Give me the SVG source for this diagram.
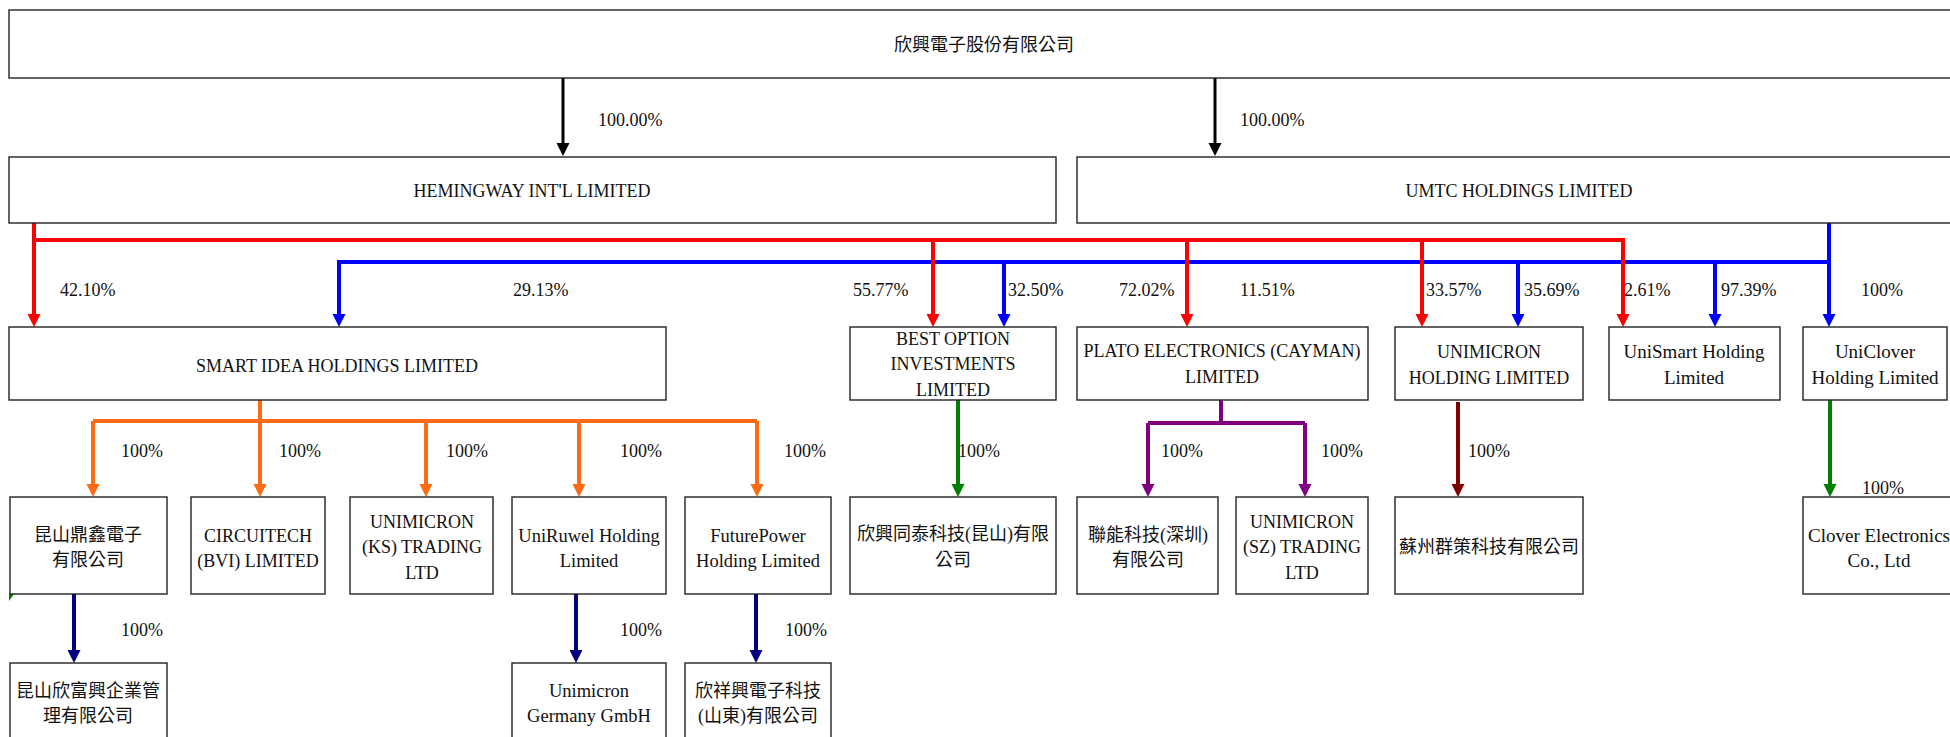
<svg xmlns="http://www.w3.org/2000/svg" width="1950" height="737" viewBox="0 0 1950 737">
<style>
.box{fill:#fff;stroke:#222;stroke-width:1.4}
text{font-family:"Liberation Serif","Noto Sans CJK TC",serif;font-size:18px;fill:#111}
.c{text-anchor:middle}
.m{font-size:19px}
.m2{font-size:18.5px}
.ln{fill:none;stroke-width:4;stroke-linejoin:miter}
.k{stroke:#000;stroke-width:3}
.r{stroke:#ff0000}
.b{stroke:#0000ff}
.o{stroke:#ff6a13}
.g{stroke:#008000}
.p{stroke:#800080}
.d{stroke:#800000}
.n{stroke:#000080}
</style>
<defs>
<marker id="mk" markerUnits="userSpaceOnUse" markerWidth="14" markerHeight="14" refX="5" refY="6.5" orient="auto"><path d="M0,0 L13,6.5 L0,13 Z" fill="#000"/></marker>
<marker id="mr" markerUnits="userSpaceOnUse" markerWidth="14" markerHeight="14" refX="5" refY="6.5" orient="auto"><path d="M0,0 L13,6.5 L0,13 Z" fill="#ff0000"/></marker>
<marker id="mb" markerUnits="userSpaceOnUse" markerWidth="14" markerHeight="14" refX="5" refY="6.5" orient="auto"><path d="M0,0 L13,6.5 L0,13 Z" fill="#0000ff"/></marker>
<marker id="mo" markerUnits="userSpaceOnUse" markerWidth="14" markerHeight="14" refX="5" refY="6.5" orient="auto"><path d="M0,0 L13,6.5 L0,13 Z" fill="#ff6a13"/></marker>
<marker id="mg" markerUnits="userSpaceOnUse" markerWidth="14" markerHeight="14" refX="5" refY="6.5" orient="auto"><path d="M0,0 L13,6.5 L0,13 Z" fill="#008000"/></marker>
<marker id="mp" markerUnits="userSpaceOnUse" markerWidth="14" markerHeight="14" refX="5" refY="6.5" orient="auto"><path d="M0,0 L13,6.5 L0,13 Z" fill="#800080"/></marker>
<marker id="md" markerUnits="userSpaceOnUse" markerWidth="14" markerHeight="14" refX="5" refY="6.5" orient="auto"><path d="M0,0 L13,6.5 L0,13 Z" fill="#800000"/></marker>
<marker id="mn" markerUnits="userSpaceOnUse" markerWidth="14" markerHeight="14" refX="5" refY="6.5" orient="auto"><path d="M0,0 L13,6.5 L0,13 Z" fill="#000080"/></marker>
</defs>
<rect width="1950" height="737" fill="#fff"/>

<g id="connectors">
<path class="ln k" d="M563,78 V148" marker-end="url(#mk)"/>
<path class="ln k" d="M1215,78 V148" marker-end="url(#mk)"/>
<g id="blue-lines">
<path class="ln b" d="M1829,223 V319" marker-end="url(#mb)"/>
<path class="ln b" d="M1829,262 H339 V319" marker-end="url(#mb)"/>
<path class="ln b" d="M1004,262 V319" marker-end="url(#mb)"/>
<path class="ln b" d="M1518,262 V319" marker-end="url(#mb)"/>
<path class="ln b" d="M1715,262 V319" marker-end="url(#mb)"/>
</g>
<g id="red-lines">
<path class="ln r" d="M34,223 V319" marker-end="url(#mr)"/>
<path class="ln r" d="M34,240 H1623 V319" marker-end="url(#mr)"/>
<path class="ln r" d="M933,240 V319" marker-end="url(#mr)"/>
<path class="ln r" d="M1187,240 V319" marker-end="url(#mr)"/>
<path class="ln r" d="M1422,240 V319" marker-end="url(#mr)"/>
</g>
<g id="orange-lines">
<path class="ln o" d="M93,421 H757"/>
<path class="ln o" d="M93,421 V489" marker-end="url(#mo)"/>
<path class="ln o" d="M260,400 V489" marker-end="url(#mo)"/>
<path class="ln o" d="M426,421 V489" marker-end="url(#mo)"/>
<path class="ln o" d="M579,421 V489" marker-end="url(#mo)"/>
<path class="ln o" d="M757,421 V489" marker-end="url(#mo)"/>
</g>
<path class="ln g" d="M958,400 V489" marker-end="url(#mg)"/>
<path class="ln g" d="M1830,400 V489" marker-end="url(#mg)"/>
<g id="purple-lines">
<path class="ln p" d="M1221,400 V423"/>
<path class="ln p" d="M1148,423 H1305"/>
<path class="ln p" d="M1148,423 V489" marker-end="url(#mp)"/>
<path class="ln p" d="M1305,423 V489" marker-end="url(#mp)"/>
</g>
<path class="ln d" d="M1458,402 V489" marker-end="url(#md)"/>
<path class="ln n" d="M74,594 V655" marker-end="url(#mn)"/>
<path class="ln n" d="M576,594 V655" marker-end="url(#mn)"/>
<path class="ln n" d="M756,594 V655" marker-end="url(#mn)"/>
<polygon points="9,594 14,594 9,601" fill="#008000"/>
</g>

<g id="labels">
<text x="598" y="126">100.00%</text>
<text x="1240" y="126">100.00%</text>
<text x="60" y="296">42.10%</text>
<text x="513" y="296">29.13%</text>
<text x="853" y="296">55.77%</text>
<text x="1008" y="296">32.50%</text>
<text x="1119" y="296">72.02%</text>
<text x="1240" y="296">11.51%</text>
<text x="1426" y="296">33.57%</text>
<text x="1524" y="296">35.69%</text>
<text x="1624" y="296">2.61%</text>
<text x="1721" y="296">97.39%</text>
<text x="1861" y="296">100%</text>
<text x="121" y="457">100%</text>
<text x="279" y="457">100%</text>
<text x="446" y="457">100%</text>
<text x="620" y="457">100%</text>
<text x="784" y="457">100%</text>
<text x="958" y="457">100%</text>
<text x="1161" y="457">100%</text>
<text x="1321" y="457">100%</text>
<text x="1468" y="457">100%</text>
<text x="1862" y="494">100%</text>
<text x="121" y="636">100%</text>
<text x="620" y="636">100%</text>
<text x="785" y="636">100%</text>
</g>

<g id="n-parent"><rect class="box" x="9" y="10" width="1960" height="68"/><text class="c" x="984" y="51">欣興電子股份有限公司</text></g>
<g id="n-hemingway"><rect class="box" x="9" y="157" width="1047" height="66"/><text class="c" x="532" y="197">HEMINGWAY INT'L LIMITED</text></g>
<g id="n-umtc"><rect class="box" x="1077" y="157" width="900" height="66"/><text class="c" x="1519" y="197">UMTC HOLDINGS LIMITED</text></g>

<g id="n-smartidea"><rect class="box" x="9" y="327" width="657" height="73"/><text class="c" x="337" y="372">SMART IDEA HOLDINGS LIMITED</text></g>
<g id="n-bestoption"><rect class="box" x="850" y="327" width="206" height="73"/><text class="c" x="953" y="345">BEST OPTION</text><text class="c" x="953" y="370">INVESTMENTS</text><text class="c" x="953" y="396">LIMITED</text></g>
<g id="n-plato"><rect class="box" x="1077" y="327" width="291" height="73"/><text class="c" x="1222" y="357">PLATO ELECTRONICS (CAYMAN)</text><text class="c" x="1222" y="383">LIMITED</text></g>
<g id="n-unimicronholding"><rect class="box" x="1395" y="327" width="188" height="73"/><text class="c" x="1489" y="358">UNIMICRON</text><text class="c" x="1489" y="384">HOLDING LIMITED</text></g>
<g id="n-unismart"><rect class="box" x="1609" y="327" width="171" height="73"/><text class="c m" x="1694" y="358">UniSmart Holding</text><text class="c m" x="1694" y="384">Limited</text></g>
<g id="n-uniclover"><rect class="box" x="1803" y="327" width="144" height="73"/><text class="c m" x="1875" y="358">UniClover</text><text class="c m" x="1875" y="384">Holding Limited</text></g>

<g id="n-dingxin"><rect class="box" x="10" y="497" width="157" height="97"/><text class="c" x="88" y="541">昆山鼎鑫電子</text><text class="c" x="88" y="566">有限公司</text></g>
<g id="n-circuitech"><rect class="box" x="191" y="497" width="134" height="97"/><text class="c" x="258" y="542">CIRCUITECH</text><text class="c" x="258" y="567">(BVI) LIMITED</text></g>
<g id="n-kstrading"><rect class="box" x="350" y="497" width="143" height="97"/><text class="c" x="422" y="528">UNIMICRON</text><text class="c" x="422" y="553">(KS) TRADING</text><text class="c" x="422" y="579">LTD</text></g>
<g id="n-uniruwel"><rect class="box" x="512" y="497" width="154" height="97"/><text class="c m2" x="589" y="542">UniRuwel Holding</text><text class="c m2" x="589" y="567">Limited</text></g>
<g id="n-futurepower"><rect class="box" x="685" y="497" width="146" height="97"/><text class="c m2" x="758" y="542">FuturePower</text><text class="c m2" x="758" y="567">Holding Limited</text></g>
<g id="n-tongtai"><rect class="box" x="850" y="497" width="206" height="97"/><text class="c" x="953" y="540">欣興同泰科技(昆山)有限</text><text class="c" x="953" y="566">公司</text></g>
<g id="n-lianneng"><rect class="box" x="1077" y="497" width="141" height="97"/><text class="c" x="1148" y="541">聯能科技(深圳)</text><text class="c" x="1148" y="566">有限公司</text></g>
<g id="n-sztrading"><rect class="box" x="1236" y="497" width="132" height="97"/><text class="c" x="1302" y="528">UNIMICRON</text><text class="c" x="1302" y="553">(SZ) TRADING</text><text class="c" x="1302" y="579">LTD</text></g>
<g id="n-qunce"><rect class="box" x="1395" y="497" width="188" height="97"/><text class="c" x="1489" y="553">蘇州群策科技有限公司</text></g>
<g id="n-clover"><rect class="box" x="1803" y="497" width="160" height="97"/><text class="c m" x="1879" y="542">Clover Electronics</text><text class="c m" x="1879" y="567">Co., Ltd</text></g>

<g id="n-xinfuxing"><rect class="box" x="10" y="663" width="157" height="90"/><text class="c" x="88" y="697">昆山欣富興企業管</text><text class="c" x="88" y="722">理有限公司</text></g>
<g id="n-germany"><rect class="box" x="512" y="663" width="154" height="90"/><text class="c m2" x="589" y="697">Unimicron</text><text class="c m2" x="589" y="722">Germany GmbH</text></g>
<g id="n-xinxiangxing"><rect class="box" x="685" y="663" width="146" height="90"/><text class="c" x="758" y="697">欣祥興電子科技</text><text class="c" x="758" y="722">(山東)有限公司</text></g>
</svg>
